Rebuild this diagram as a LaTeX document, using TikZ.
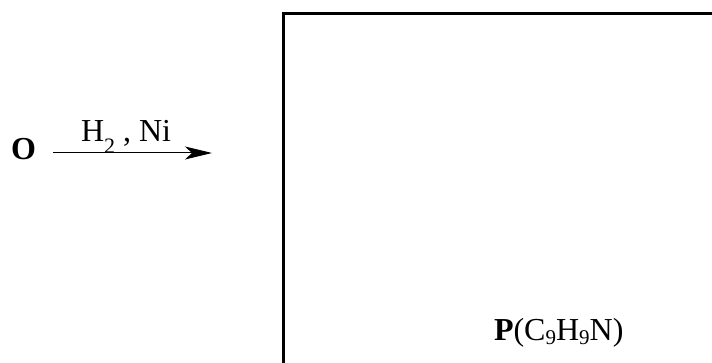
\documentclass[tikz,border=0pt]{standalone}
\usepackage{fontspec}
\setmainfont{Liberation Serif}
\usetikzlibrary{arrows.meta}
\tikzset{
  chem/.style={inner sep=0pt, outer sep=0pt, anchor=base west, font=\fontsize{32}{38}\selectfont},
  rxnarrow/.style={line width=1pt, -{Stealth[length=27pt, width=13pt, inset=7pt]}},
  frame/.style={line width=2.6pt}
}
\newcommand{\lowsub}[1]{\raisebox{-0.36em}{\fontsize{22}{26}\selectfont #1}}
\newcommand{\chsub}[1]{\raisebox{-0.1em}{\fontsize{21}{25}\selectfont #1}}
\begin{document}
\begin{tikzpicture}[x=1pt, y=-1pt]
  \useasboundingbox (0,0) rectangle (712,363);
  \clip (0,0) rectangle (712,363);
  % reactant
  \node[chem] (O) at (11,160) {\textbf{O}};
  % arrow
  \coordinate (arrowstart) at (53,153);
  \coordinate (arrowend) at (212,153);
  \draw[rxnarrow] (arrowstart) -- (arrowend);
  \node[chem] (reagent) at (81,142) {H\lowsub{2} , Ni};
  % product box (only top and left edges inside the picture)
  \coordinate (boxbl) at (283.5,380);
  \coordinate (boxtl) at (283.5,13.5);
  \coordinate (boxtr) at (730,13.5);
  \draw[frame] (boxbl) -- (boxtl) -- (boxtr);
  \node[chem] (P) at (494,341) {\textbf{P}(C\chsub{9}H\chsub{9}N)};
\end{tikzpicture}
\end{document}
